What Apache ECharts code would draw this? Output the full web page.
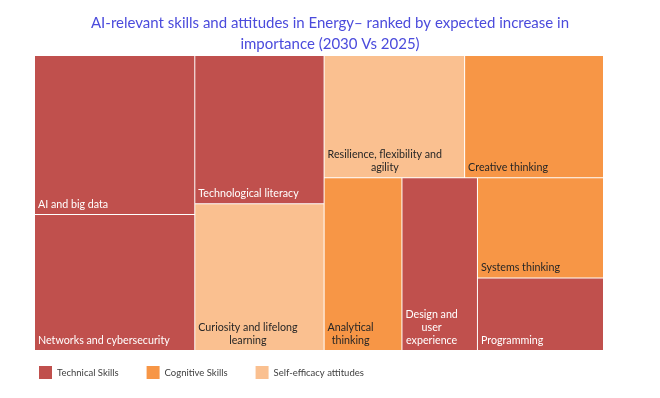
<!DOCTYPE html>
<html>
<head>
<meta charset="utf-8">
<script src="https://cdn.jsdelivr.net/npm/echarts@6/dist/echarts.min.js"></script>
<style>
  html, body { margin: 0; padding: 0; background: #fff; }
  #chart { width: 660px; height: 398px; }
</style>
</head>
<body>
<div id="chart"></div>
<script>
// skills, ranked by expected increase in importance
const categories = [
  'AI and big data', 'Networks and cybersecurity', 'Technological literacy',
  'Curiosity and lifelong learning', 'Resilience, flexibility and agility',
  'Creative thinking', 'Analytical thinking', 'Design and user experience',
  'Systems thinking', 'Programming'
]
const cellLabels = [
  'AI and big data', 'Networks and cybersecurity', 'Technological literacy',
  'Curiosity and lifelong\nlearning', 'Resilience, flexibility and\nagility',
  'Creative thinking', 'Analytical\nthinking', 'Design and\nuser\nexperience',
  'Systems thinking', 'Programming'
]
const importance = [25.4, 21.7, 19.1, 18.9, 17.1, 16.9, 13.4, 13.0, 12.6, 9.1]
const skillGroup = [
  'Technical Skills', 'Technical Skills', 'Technical Skills',
  'Self-efficacy attitudes', 'Self-efficacy attitudes', 'Cognitive Skills',
  'Cognitive Skills', 'Technical Skills', 'Cognitive Skills', 'Technical Skills'
]
const groups = ['Technical Skills', 'Cognitive Skills', 'Self-efficacy attitudes']

const groupColors = {
  'Technical Skills': '#c0504d',
  'Cognitive Skills': '#f79646',
  'Self-efficacy attitudes': '#fac090'
}
const labelColors = {
  'Technical Skills': '#ffffff',
  'Cognitive Skills': '#262626',
  'Self-efficacy attitudes': '#262626'
}

const font = 'Lato, "Open Sans", sans-serif'
const labelSize = 10.7
const labelPad = 3

// width of the widest line, so wrapped labels can be centred line by line
const ctx = document.createElement('canvas').getContext('2d')
ctx.font = labelSize + 'px ' + font
function widest(text) {
  return Math.max(...text.split('\n').map(s => ctx.measureText(s).width))
}

const myChart = echarts.init(document.getElementById('chart'))

const treeData = categories.map((name, i) => {
  const text = cellLabels[i]
  const label = { color: labelColors[skillGroup[i]], formatter: text }
  if (text.indexOf('\n') >= 0) {
    label.align = 'center'
    label.offset = [labelPad + widest(text) / 2, 0]
  }
  return {
    name: name,
    value: importance[i],
    itemStyle: { color: groupColors[skillGroup[i]] },
    label: label
  }
})

// empty series only so the legend shows the three groups
const legendSeries = groups.map(g => ({
  name: g,
  type: 'bar',
  data: [],
  itemStyle: { color: groupColors[g] }
}))

const option = {
  animation: false,
  title: {
    text: 'AI-relevant skills and attitudes in Energy\u2013 ranked by expected increase in\nimportance (2030 Vs 2025)',
    left: 'center',
    top: 8,
    textStyle: {
      color: '#4b4bdc',
      fontFamily: font,
      fontSize: 15,
      fontWeight: 'normal',
      lineHeight: 21
    }
  },
  legend: {
    data: groups,
    left: 39,
    top: 366,
    padding: 0,
    icon: 'rect',
    itemWidth: 13,
    itemHeight: 13,
    itemGap: 28,
    selectedMode: false,
    textStyle: { color: '#404040', fontFamily: font, fontSize: 9.5 }
  },
  grid: { show: false, left: 0, top: 0, width: 1, height: 1 },
  xAxis: { type: 'category', show: false, data: [] },
  yAxis: { type: 'value', show: false },
  series: [
    {
      type: 'treemap',
      left: 35,
      top: 56,
      width: 568,
      height: 294,
      roam: false,
      nodeClick: false,
      squareRatio: 0.75,
      breadcrumb: { show: false },
      levels: [
        { itemStyle: { gapWidth: 1, borderWidth: 0, borderColor: '#fff' } },
        { itemStyle: { borderWidth: 0 } }
      ],
      label: {
        show: true,
        position: 'insideBottomLeft',
        distance: 0,
        padding: labelPad,
        fontFamily: font,
        fontSize: labelSize,
        lineHeight: 13
      },
      data: treeData
    },
    ...legendSeries
  ]
}

myChart.setOption(option)
</script>
</body>
</html>
